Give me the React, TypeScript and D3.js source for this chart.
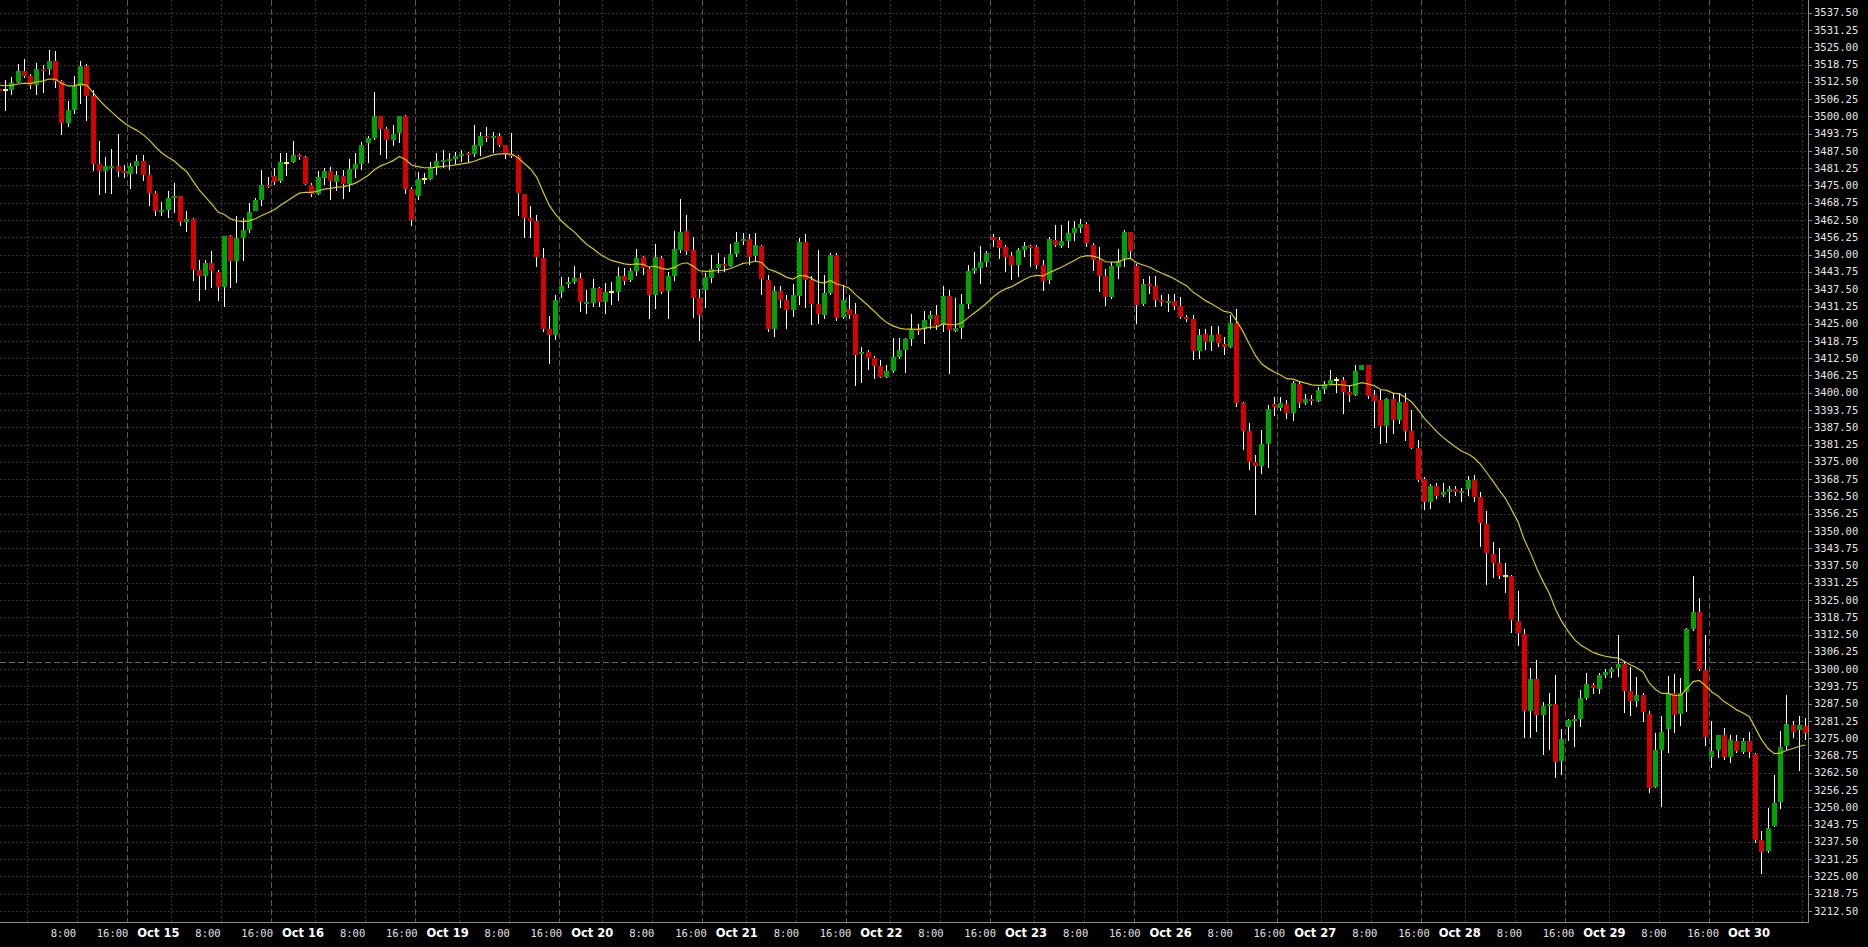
import React, { useEffect } from 'react';
import * as d3 from 'd3';

const W = 1868;
const H = 947;
const PLOT_RIGHT = 1808.5;
const PLOT_BOTTOM = 922.5;

// Hourly bars, 23 per trading day (1:00 .. 23:00). Bars 0..20 = Oct 14 (3:00..23:00)
const opens = [
  3510, 3509.5, 3509.4, 3512.4, 3516.5, 3514.5, 3511.5, 3517.3, 3517.3, 3520,
  3512.7, 3497.6, 3502.2, 3511.1, 3518.1, 3507.3, 3482.8, 3480.3, 3481.3, 3481.9,
  3480.3, 3479.1, 3482, 3483.7, 3478.7, 3472.3, 3465.6, 3466.2, 3470.4, 3471,
  3461.7, 3463, 3444.4, 3442.1, 3447.1, 3443.6, 3438.1, 3456.6, 3447.5, 3455.9,
  3458.7, 3465.6, 3469.6, 3475.3, 3478.3, 3476.5, 3483, 3483.4, 3485.9, 3485.2,
  3475.3, 3471.9, 3477.7, 3480.1, 3476.2, 3478.3, 3475.5, 3480.9, 3482.8, 3490.4,
  3492.3, 3500.1, 3495.4, 3491.4, 3494.1, 3500.1, 3473.7, 3471.1, 3477.2, 3477.5,
  3481.8, 3483.6, 3483.9, 3484.5, 3485.7, 3486.6, 3486.3, 3489.3, 3492.9, 3492.3,
  3492.9, 3489.6, 3486.2, 3485.7, 3471.9, 3463.3, 3462.1, 3448.8, 3423, 3421,
  3436.3, 3439.4, 3440.2, 3441.6, 3432.3, 3432.6, 3437.9, 3432.8, 3436.6, 3436.6,
  3442.3, 3440.8, 3444, 3449, 3444.7, 3435.5, 3448.8, 3436.9, 3442.4, 3451.6,
  3458.5, 3451.6, 3434.4, 3437.2, 3441.6, 3445.2, 3446.5, 3446, 3450.2, 3455,
  3455.6, 3449.5, 3453.1, 3440.8, 3423.2, 3436.9, 3433.6, 3429.8, 3435.1, 3454.5,
  3440.8, 3432.1, 3428.2, 3435.9, 3449.8, 3427.5, 3430.4, 3428.5, 3414.3, 3414.8,
  3412.7, 3409.7, 3405.8, 3407.9, 3412.8, 3415.5, 3419.4, 3423, 3423, 3426.6,
  3428.2, 3424.6, 3435.1, 3422.5, 3423.5, 3432.1, 3444.1, 3445.3, 3447.4, 3456.4,
  3455.2, 3452.8, 3449.5, 3446.3, 3451.7, 3453.1, 3452.8, 3446.2, 3440.8, 3455.3,
  3453.1, 3454.9, 3457.9, 3459.5, 3460.9, 3453.6, 3447.9, 3442.1, 3434.6, 3445.4,
  3448.5, 3458.3, 3445.7, 3432, 3439.2, 3438.5, 3433.4, 3432.6, 3433.1, 3431.2,
  3427.4, 3426.6, 3415, 3421.1, 3418.3, 3421.1, 3417.7, 3416.5, 3425.4, 3396.2,
  3386.1, 3374.9, 3373.4, 3381.3, 3395.8, 3394.6, 3396, 3392.6, 3403.2, 3396.2,
  3397.6, 3396.9, 3401.5, 3403, 3404.5, 3404.7, 3400.3, 3399.3, 3408.3, 3409.9,
  3399, 3397.2, 3387.9, 3397.8, 3390.3, 3396.6, 3386.1, 3380.1, 3368.8, 3360.4,
  3366.1, 3363, 3364, 3365.2, 3364, 3365, 3368.4, 3362.1, 3352.5, 3341.7,
  3338.3, 3333.5, 3333.7, 3317.5, 3312.7, 3285, 3296.3, 3283.4, 3286.8, 3287.4,
  3266.8, 3279.1, 3281.5, 3281.9, 3289.7, 3294.1, 3292.9, 3297.8, 3299, 3300.3,
  3301.8, 3292, 3288.5, 3290.6, 3283.9, 3257.4, 3270.7, 3278.2, 3291.3, 3283.8,
  3291.6, 3314.6, 3320.6, 3299.8, 3268.2, 3270.7, 3276.3, 3268.2, 3274, 3270,
  3273.8, 3269.4, 3238, 3234.1, 3243.2, 3251.8, 3272, 3279.7, 3277.8, 3279.5,
];

const highs = [
  3512, 3513, 3514.3, 3519, 3520.9, 3515.3, 3519.3, 3518.7, 3523.9, 3523.6,
  3513, 3505.4, 3514.5, 3520, 3519, 3509.7, 3491, 3485.2, 3488.3, 3493.6,
  3482.5, 3483.1, 3485.9, 3485.9, 3482.5, 3473.1, 3469, 3473.1, 3475.9, 3471,
  3465.6, 3463.2, 3448.1, 3448.1, 3451.1, 3444.5, 3456.6, 3457.2, 3463.8, 3463.2,
  3468.6, 3470.4, 3480.7, 3478, 3481.3, 3486.7, 3486.7, 3491, 3486.4, 3485.5,
  3475.9, 3480.1, 3481.3, 3481.5, 3480.4, 3480.7, 3484.6, 3486.7, 3490.6, 3492.9,
  3508.9, 3500.1, 3496.3, 3496.9, 3500.1, 3500.5, 3474.5, 3480, 3479.6, 3483.6,
  3486.6, 3487.8, 3486.6, 3487.2, 3487.8, 3487.2, 3496.9, 3494.4, 3496, 3494.4,
  3494.1, 3489.6, 3494.1, 3486, 3472, 3467.5, 3464.3, 3452.5, 3427.7, 3435.3,
  3442, 3442, 3445.9, 3443.4, 3437.2, 3441, 3438.4, 3439.6, 3440.2, 3445.6,
  3445, 3445, 3452.1, 3449.6, 3445.6, 3453.8, 3449.3, 3443.8, 3458.5, 3470,
  3464.3, 3456.5, 3437.4, 3443.2, 3449.8, 3450.4, 3449.1, 3453.8, 3458.3, 3457.9,
  3457.4, 3457.9, 3453.4, 3442.6, 3438.7, 3438.7, 3435.4, 3439.3, 3455.8, 3457.4,
  3442.3, 3451.6, 3442.6, 3450.4, 3450.7, 3439, 3435.4, 3432.3, 3416.7, 3415.5,
  3413.3, 3411.9, 3410.1, 3419.7, 3419.7, 3419.7, 3428.3, 3424.9, 3429.7, 3429.4,
  3431.8, 3438.7, 3437.1, 3434.2, 3435.7, 3446.2, 3451, 3453.1, 3451.4, 3457.6,
  3456.4, 3453.4, 3450.9, 3452.3, 3454.7, 3453.4, 3453.4, 3448.1, 3456.4, 3460.7,
  3460.7, 3462, 3462, 3462.8, 3461.7, 3454.1, 3452.7, 3444.8, 3447.2, 3452.1,
  3458.7, 3458.3, 3446.6, 3441.2, 3442.1, 3442.1, 3435.2, 3435.6, 3435.6, 3434.6,
  3428, 3428, 3423.1, 3423.1, 3424.3, 3424.3, 3420.1, 3428, 3430.2, 3396.6,
  3389, 3377.3, 3386.6, 3395.4, 3398.4, 3398.4, 3397.4, 3404.4, 3403.8, 3399.4,
  3399, 3402.1, 3404.4, 3408.1, 3405.7, 3405.7, 3402.7, 3410.1, 3409.9, 3409.9,
  3401.1, 3401.1, 3398.2, 3399.9, 3399.9, 3399.9, 3393.6, 3383, 3369.4, 3367.1,
  3367.3, 3367.2, 3366.2, 3366.2, 3365.4, 3369.9, 3370.2, 3364.2, 3357.3, 3346.1,
  3343.7, 3338.3, 3334.1, 3328.3, 3314.4, 3300.3, 3303.3, 3288, 3291.3, 3297.9,
  3278.2, 3282.1, 3283.3, 3292.4, 3298.4, 3294.8, 3298.4, 3300.2, 3300.8, 3312.2,
  3302.7, 3300.8, 3297.2, 3291.3, 3284.8, 3277, 3283, 3297.5, 3298.3, 3296.9,
  3314.8, 3333.7, 3325.7, 3312.4, 3281.1, 3276, 3278.5, 3276, 3276, 3274.9,
  3277.1, 3269.7, 3241.4, 3249.8, 3261.5, 3277.5, 3290.8, 3281.1, 3283.1, 3282.3,
];

const lows = [
  3507, 3502, 3507.9, 3512, 3513.9, 3510, 3507.9, 3508.5, 3515.1, 3510.3,
  3493.4, 3496, 3500.9, 3504.5, 3498.2, 3480.3, 3471.7, 3472.3, 3471.9, 3478,
  3477.7, 3473.7, 3479.1, 3476.7, 3467.4, 3463.8, 3463.8, 3463.2, 3465, 3460.2,
  3458.1, 3440.3, 3433.3, 3437.1, 3437.9, 3433.3, 3431.1, 3437.9, 3439.7, 3447.5,
  3457.8, 3465.6, 3467.4, 3474.1, 3475.3, 3475.9, 3478.3, 3483.1, 3484.3, 3475.3,
  3470.7, 3471.7, 3475.3, 3469.8, 3472.9, 3470.2, 3472.6, 3477.7, 3480.7, 3483.2,
  3491.4, 3486, 3484.5, 3489.2, 3490.2, 3472, 3460.5, 3469.7, 3475.4, 3476.9,
  3478.8, 3481.2, 3480.6, 3482.7, 3483.6, 3483, 3485.4, 3485.6, 3490.8, 3486.6,
  3489, 3484.5, 3484.8, 3463.9, 3456, 3456, 3445.6, 3422, 3410.3, 3419,
  3434.2, 3437.8, 3439.5, 3429.3, 3428.5, 3431.1, 3430.9, 3428.4, 3431.8, 3433.2,
  3439, 3439.9, 3442.3, 3442.6, 3426.7, 3430.4, 3435.7, 3426.6, 3440.6, 3450.4,
  3450, 3427.2, 3418.8, 3430.8, 3439.6, 3443.4, 3443.8, 3445.6, 3449, 3453.4,
  3446.2, 3447.4, 3435.4, 3422.1, 3420.3, 3430.8, 3423.2, 3427.5, 3431.7, 3430.5,
  3424.4, 3424.9, 3426.8, 3435.3, 3426.1, 3426.6, 3426.6, 3402.5, 3403.4, 3408.3,
  3404.9, 3405.2, 3405.2, 3407.1, 3412.1, 3407.3, 3417, 3420.8, 3417.6, 3423,
  3422.8, 3422.1, 3406.6, 3422.1, 3419.5, 3430.2, 3443, 3439.3, 3445.6, 3452.6,
  3448.2, 3443.5, 3440.8, 3442, 3449, 3445.6, 3444.7, 3436.9, 3439.3, 3452.6,
  3452.2, 3452.2, 3455, 3457.7, 3452.7, 3444.2, 3436.4, 3431.2, 3434, 3441.2,
  3445.4, 3448.5, 3424.7, 3431.2, 3435.6, 3431, 3431.2, 3429.2, 3429.8, 3426.8,
  3425.5, 3411.9, 3412.3, 3415.5, 3415, 3416.5, 3413.5, 3416.3, 3395, 3379.1,
  3371.9, 3355.9, 3370.5, 3372.8, 3391.7, 3393.4, 3390.6, 3389.7, 3394.5, 3395.4,
  3395.4, 3396.6, 3399.4, 3402.7, 3400, 3392.4, 3396.6, 3398.7, 3408.1, 3397.8,
  3387.3, 3381.5, 3381.8, 3385.2, 3388.5, 3382.5, 3379.7, 3367.7, 3357.4, 3358,
  3361.6, 3362.2, 3360.2, 3362.6, 3360.6, 3362.6, 3360.6, 3344, 3330.5, 3332.8,
  3332.5, 3327.6, 3313.2, 3308.5, 3275, 3275, 3277.4, 3269, 3270.8, 3260.5,
  3261.5, 3274.1, 3271.8, 3279.1, 3288.9, 3291, 3291, 3296.6, 3296.9, 3297.2,
  3284, 3283, 3286.3, 3281, 3255.2, 3257, 3250, 3269.7, 3277, 3279.5,
  3284.6, 3313.9, 3299.2, 3272.3, 3264.3, 3268, 3267, 3266.1, 3269.7, 3269.1,
  3268, 3237.2, 3225.8, 3233.5, 3243, 3249.4, 3270.8, 3275, 3263.2, 3274.4,
];

const closes = [
  3509, 3509.5, 3512.1, 3516.5, 3514.5, 3511.5, 3517.3, 3516.5, 3520, 3512.7,
  3497.6, 3502.2, 3511.1, 3518.1, 3507.3, 3482.8, 3480.3, 3481.9, 3482, 3480.3,
  3479.5, 3482, 3483.7, 3478.7, 3472.3, 3465.6, 3466.2, 3470.4, 3471, 3461.7,
  3463, 3444.4, 3442.1, 3446.9, 3443.9, 3438.1, 3456.6, 3447.5, 3455.9, 3459,
  3465.3, 3469.6, 3475.3, 3474.7, 3476.2, 3483.4, 3483, 3485.9, 3485.2, 3475.5,
  3471.9, 3477.9, 3480.1, 3476.7, 3478.7, 3475.5, 3480.9, 3482.8, 3489.8, 3492.3,
  3500.1, 3495.4, 3491.4, 3493.5, 3500.1, 3473.7, 3462.5, 3477.5, 3477.2, 3481.5,
  3483.8, 3484.2, 3484.5, 3485.6, 3486.3, 3486.1, 3489.6, 3492.9, 3492.3, 3492.9,
  3489.6, 3486.3, 3485.6, 3472.3, 3463.3, 3462.2, 3449.2, 3423, 3420.8, 3433.7,
  3438.7, 3440.1, 3441.6, 3432.8, 3432.9, 3437.9, 3432.8, 3436.4, 3436.6, 3442.3,
  3440.5, 3444, 3448.9, 3445, 3435.5, 3449, 3436.6, 3442.3, 3452, 3458.2,
  3451.3, 3434.4, 3428.1, 3441.7, 3444.7, 3446.6, 3445.8, 3450.2, 3454.7, 3455.6,
  3449.2, 3453.4, 3441.3, 3423.2, 3436.9, 3433.4, 3429.8, 3435.4, 3454.5, 3440.8,
  3432.1, 3428.5, 3435.9, 3449.8, 3427.1, 3433.6, 3428.2, 3413.7, 3414.8, 3412.7,
  3409.7, 3405.8, 3407.9, 3412.8, 3415.5, 3419.4, 3423, 3422.5, 3426.4, 3428.2,
  3424.6, 3435.1, 3422.8, 3423.5, 3432.1, 3444.1, 3445.3, 3447.3, 3450.4, 3455.2,
  3452.5, 3449.2, 3446.3, 3451.7, 3453.1, 3452.6, 3446.1, 3440.5, 3455.6, 3453.4,
  3454.9, 3457.9, 3459.5, 3461, 3454.1, 3447.9, 3442.1, 3434.6, 3445.7, 3447.6,
  3458.3, 3451.1, 3431.6, 3439.2, 3438.5, 3433.4, 3432.8, 3433.1, 3431.2, 3427.4,
  3426.6, 3415, 3420.7, 3418.3, 3420.7, 3418, 3416.5, 3425.4, 3396.2, 3386.1,
  3374.9, 3373.4, 3381.3, 3394.2, 3394.8, 3396.2, 3392.6, 3403.4, 3396.2, 3397.6,
  3396.9, 3400.9, 3403, 3404.7, 3404.5, 3400.3, 3399.3, 3407.8, 3409.9, 3398.7,
  3397, 3387.9, 3397.8, 3390.3, 3396.8, 3386.1, 3380.1, 3368.5, 3360.4, 3366.1,
  3362.8, 3364, 3365.2, 3364, 3364.4, 3368.4, 3362.4, 3352.7, 3341.9, 3338.5,
  3333.7, 3333.5, 3317.6, 3313, 3285, 3296.3, 3283.4, 3286.7, 3287.3, 3266.5,
  3274.7, 3281.5, 3282, 3289.7, 3294.5, 3293.2, 3297.8, 3299, 3300.2, 3301.8,
  3292.1, 3288.5, 3290.6, 3284.5, 3257, 3270.7, 3277.3, 3291.3, 3283.4, 3291.3,
  3314.6, 3320.6, 3300, 3275.6, 3270.5, 3276, 3268.2, 3274.2, 3270.2, 3273.8,
  3270, 3238.2, 3233.8, 3242.6, 3251.6, 3271.8, 3280.1, 3277.4, 3279.7, 3277,
];

const dayLabels = ['Oct 15', 'Oct 16', 'Oct 19', 'Oct 20', 'Oct 21', 'Oct 22', 'Oct 23', 'Oct 26', 'Oct 27', 'Oct 28', 'Oct 29', 'Oct 30'];
const hourLabels = ['8:00', '16:00'];
const hourBarOffsets = [7, 15];
const FIRST_DAY_BAR = 21;
const BARS_PER_DAY = 23;
const PRICE_MIN = 3212.5;
const PRICE_MAX = 3537.5;
const PRICE_STEP = 6.25;
const levelPrice = 3302.5;
const maPeriod = 20;
const maSeed = 3511.5;

const GREEN = '#00a400';
const RED = '#d80000';

export default function App() {
  useEffect(() => {
    document.body.style.margin = '0';
    document.body.style.background = '#000';
  }, []);

  const n = closes.length;
  const x = d3.scaleLinear().domain([0, n - 1]).range([-0.7, -0.7 + 6.25 * (n - 1)]);
  const y = d3.scaleLinear().domain([PRICE_MIN, PRICE_MAX]).range([910.9, 12.7]);
  const labelX = d3.scaleLinear().domain([0, 1]).range([158.4, 158.4 + 144.6]);

  const priceTicks = d3.range(PRICE_MIN, PRICE_MAX + 0.001, PRICE_STEP);

  // exponential moving average of the closes
  const k = 2 / (maPeriod + 1);
  const ema: number[] = [];
  let prev = maSeed;
  closes.forEach((c) => {
    prev = prev + k * (c - prev);
    ema.push(prev);
  });
  const maPath = d3.line<number>().x((_, i) => x(i)).y((d) => y(d))(ema) || '';

  const snap = (v: number) => Math.round(v) + 0.5;

  const dayLines: number[] = [];
  const hourLines: number[] = [];
  for (let d = -1; d < dayLabels.length; d++) {
    const start = FIRST_DAY_BAR + d * BARS_PER_DAY;
    if (d >= 0) dayLines.push(start - 0.5);
    hourBarOffsets.forEach((o) => hourLines.push(start + o - 0.5));
  }

  const xLabels: { text: string; x: number; bold: boolean }[] = [];
  for (let d = -1; d < dayLabels.length; d++) {
    if (d >= 0) xLabels.push({ text: dayLabels[d], x: labelX(d), bold: true });
    if (d < dayLabels.length - 1) {
      xLabels.push({ text: hourLabels[0], x: labelX(d + 0.343), bold: false });
      xLabels.push({ text: hourLabels[1], x: labelX(d + 0.683), bold: false });
    }
  }

  return (
    <svg width={W} height={H} style={{ display: 'block', position: 'absolute', left: 0, top: 0, background: '#000' }}>
      <defs>
        <clipPath id="plot">
          <rect x={0} y={0} width={PLOT_RIGHT} height={PLOT_BOTTOM} />
        </clipPath>
      </defs>
      <rect x={0} y={0} width={W} height={H} fill="#000" />
      <g clipPath="url(#plot)" shapeRendering="crispEdges">
        {priceTicks.map((t) => (
          <line key={'h' + t} x1={0} x2={PLOT_RIGHT} y1={snap(y(t))} y2={snap(y(t))} stroke="#363636" strokeDasharray="2,2" />
        ))}
        {hourLines.map((b) => (
          <line key={'vh' + b} x1={snap(x(b))} x2={snap(x(b))} y1={0} y2={PLOT_BOTTOM} stroke="#363636" strokeDasharray="2,2" />
        ))}
        {dayLines.map((b) => (
          <line key={'vd' + b} x1={snap(x(b))} x2={snap(x(b))} y1={0} y2={PLOT_BOTTOM} stroke="#5a5a5a" strokeDasharray="6,3" />
        ))}
        <line x1={0} x2={PLOT_RIGHT} y1={snap(y(levelPrice))} y2={snap(y(levelPrice))} stroke="#6a6a6a" strokeDasharray="6,3" />
        {closes.map((c, i) => {
          const o = opens[i];
          const cx = x(i);
          const left = Math.round(cx - 2.5);
          const wx = left + 2.5;
          const yh = Math.round(y(highs[i]));
          const yl = Math.round(y(lows[i]));
          let body;
          if (o === c) {
            body = <rect x={left} y={Math.round(y(o)) - 1} width={5} height={2} fill="#ffff00" />;
          } else {
            const top = Math.round(y(Math.max(o, c)));
            const bot = Math.round(y(Math.min(o, c)));
            body = <rect x={left} y={top} width={5} height={Math.max(bot - top, 2)} fill={c > o ? GREEN : RED} />;
          }
          return (
            <g key={'c' + i}>
              <line x1={wx} x2={wx} y1={yh} y2={yl} stroke="#ffffff" strokeWidth={1} />
              {body}
            </g>
          );
        })}
      </g>
      <g clipPath="url(#plot)">
        <path d={maPath} fill="none" stroke="#d6cc00" strokeWidth={1.2} />
      </g>
      <g shapeRendering="crispEdges">
        <line x1={PLOT_RIGHT} x2={PLOT_RIGHT} y1={0} y2={PLOT_BOTTOM} stroke="#8c8c8c" />
        <line x1={0} x2={PLOT_RIGHT} y1={PLOT_BOTTOM} y2={PLOT_BOTTOM} stroke="#8c8c8c" />
        {priceTicks.map((t) => (
          <line key={'t' + t} x1={PLOT_RIGHT} x2={PLOT_RIGHT + 3.5} y1={snap(y(t))} y2={snap(y(t))} stroke="#8c8c8c" />
        ))}
      </g>
      <g fontFamily="'DejaVu Sans Mono', monospace" fontSize={10.5} fill="#e6e6e6">
        {priceTicks.map((t) => (
          <text key={'l' + t} x={1814} y={y(t)} dy="0.35em">{t.toFixed(2)}</text>
        ))}
      </g>
      <g fill="#ffffff">
        {xLabels.map((l, i) => (
          <text
            key={'x' + i}
            x={l.x}
            y={937}
            textAnchor="middle"
            fontFamily={l.bold ? "'DejaVu Sans', sans-serif" : "'DejaVu Sans Mono', monospace"}
            fontWeight={l.bold ? 'bold' : 'normal'}
            fontSize={l.bold ? 11.5 : 10.5}
            fill={l.bold ? '#ffffff' : '#e0e0e0'}
          >
            {l.text}
          </text>
        ))}
      </g>
    </svg>
  );
}
